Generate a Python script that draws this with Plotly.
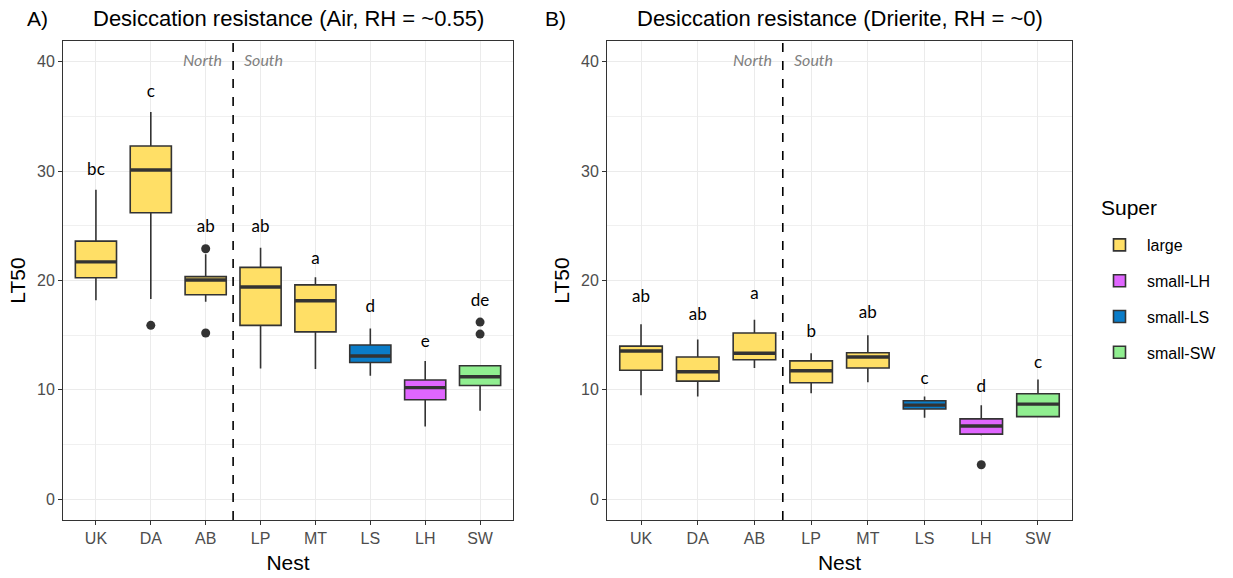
import plotly.graph_objects as go

# ---- data ----
nests = ["UK", "DA", "AB", "LP", "MT", "LS", "LH", "SW"]
supers = ["large", "large", "large", "large", "large", "small-LS", "small-LH", "small-SW"]
super_order = ["large", "small-LH", "small-LS", "small-SW"]
super_colors = {
    "large": "#FFDF66",
    "small-LH": "#E066FF",
    "small-LS": "#0A7CC8",
    "small-SW": "#90EE90",
}

# panel A: Air, RH ~0.55
air_lower = [18.2, 18.3, 18.05, 11.95, 11.9, 11.3, 6.65, 8.1]
air_q1 = [20.25, 26.2, 18.7, 15.9, 15.3, 12.5, 9.1, 10.4]
air_median = [21.7, 30.1, 20.05, 19.4, 18.15, 13.1, 10.2, 11.2]
air_q3 = [23.6, 32.3, 20.35, 21.2, 19.6, 14.1, 10.9, 12.2]
air_upper = [28.3, 35.4, 22.4, 23.0, 20.3, 15.6, 12.65, 12.2]
air_outliers = {"DA": [15.9], "AB": [22.9, 15.2], "SW": [16.2, 15.1]}
air_letters = ["bc", "c", "ab", "ab", "a", "d", "e", "de"]
air_letter_y = [30.0, 37.2, 24.8, 24.8, 21.9, 17.5, 14.3, 18.1]

# panel B: Drierite, RH ~0
dri_lower = [9.5, 9.4, 12.0, 9.7, 10.7, 7.45, 5.85, 7.5]
dri_q1 = [11.8, 10.8, 12.75, 10.65, 12.0, 8.25, 5.95, 7.55]
dri_median = [13.55, 11.65, 13.35, 11.75, 13.0, 8.6, 6.7, 8.7]
dri_q3 = [14.0, 13.0, 15.2, 12.65, 13.4, 9.0, 7.35, 9.65]
dri_upper = [16.0, 14.6, 16.4, 13.35, 15.0, 9.4, 8.6, 10.95]
dri_outliers = {"LH": [3.15]}
dri_letters = ["ab", "ab", "a", "b", "ab", "c", "d", "c"]
dri_letter_y = [18.45, 16.8, 18.7, 15.25, 17.0, 10.95, 10.15, 12.4]

titles = ["Desiccation resistance (Air, RH = ~0.55)",
          "Desiccation resistance (Drierite, RH = ~0)"]
panel_tags = ["A)", "B)"]

# ---- style ----
W, H = 1233, 578
EDGE = "#333333"
BOX_W = 0.75
FONT = "Liberation Sans, Arial, sans-serif"
LETTER_FONT = "Lato, Open Sans, sans-serif"


def px_x(p):
    return p / W


def px_y(p):
    return 1 - p / H


fig = go.Figure()

panels = [
    ("x", "y", air_lower, air_q1, air_median, air_q3, air_upper, air_outliers, air_letters, air_letter_y),
    ("x2", "y2", dri_lower, dri_q1, dri_median, dri_q3, dri_upper, dri_outliers, dri_letters, dri_letter_y),
]

shown = set()
for xa, ya, lo, q1, med, q3, up, outl, letters, ly in panels:
    for i, nest in enumerate(nests):
        pos = i + 1
        grp = supers[i]
        fig.add_trace(go.Box(
            x=[pos], lowerfence=[lo[i]], q1=[q1[i]], median=[med[i]],
            q3=[q3[i]], upperfence=[up[i]],
            width=BOX_W, whiskerwidth=0,
            fillcolor=super_colors[grp],
            line=dict(color=EDGE, width=1.6),
            name=grp, legendgroup=grp,
            legendrank=super_order.index(grp) + 1,
            showlegend=grp not in shown,
            xaxis=xa, yaxis=ya, hoverinfo="skip",
        ))
        shown.add(grp)
        # thicker median bar, like ggplot's fatten
        fig.add_trace(go.Scatter(
            x=[pos - BOX_W / 2, pos + BOX_W / 2], y=[med[i], med[i]],
            mode="lines", line=dict(color=EDGE, width=3.4),
            showlegend=False, legendgroup=grp, xaxis=xa, yaxis=ya, hoverinfo="skip",
        ))
        if nest in outl:
            fig.add_trace(go.Scatter(
                x=[pos] * len(outl[nest]), y=outl[nest], mode="markers",
                marker=dict(color=EDGE, size=9),
                showlegend=False, legendgroup=grp, xaxis=xa, yaxis=ya, hoverinfo="skip",
            ))
    fig.add_trace(go.Scatter(
        x=list(range(1, len(nests) + 1)), y=ly, mode="text", text=letters,
        textfont=dict(family=LETTER_FONT, size=17, color="#000000"),
        showlegend=False, xaxis=xa, yaxis=ya, hoverinfo="skip",
    ))

# panel positions in pixels
x_doms = [(63, 513), (607, 1072)]
y_dom = [px_y(520), px_y(41)]

axis_common = dict(
    showline=True, linecolor=EDGE, linewidth=1, mirror=True,
    ticks="outside", ticklen=4, tickcolor=EDGE,
    tickfont=dict(family=FONT, size=16, color="#4D4D4D"),
    gridcolor="#EBEBEB", gridwidth=1.3, zeroline=False,
    title_font=dict(family=FONT, size=21, color="#000000"),
)

for k in range(2):
    x0, x1 = x_doms[k]
    xr = "x" if k == 0 else "x2"
    yr = "y" if k == 0 else "y2"
    xname = "xaxis" if k == 0 else "xaxis2"
    yname = "yaxis" if k == 0 else "yaxis2"
    fig.update_layout({
        xname: dict(
            domain=[px_x(x0), px_x(x1)], range=[0.4, 8.6],
            tickvals=list(range(1, len(nests) + 1)), ticktext=nests,
            title_text="Nest", title_standoff=9, anchor=yr,
            **axis_common,
        ),
        yname: dict(
            domain=y_dom, range=[-1.9, 41.9], tickvals=[0, 10, 20, 30, 40],
            minor=dict(dtick=5, tick0=0, showgrid=True, gridcolor="#F0F0F0",
                       gridwidth=0.9, ticks=""),
            title_text="LT50", title_standoff=5, anchor=xr,
            **axis_common,
        ),
    })
    # North / South divider
    fig.add_shape(type="line", xref=xr, yref=f"{yr} domain", x0=3.5, x1=3.5, y0=0, y1=1,
                  line=dict(color="#000000", width=1.6, dash="dash"))
    fig.add_annotation(xref=xr, yref=yr, x=3.5, y=40.2, text="<i>North</i>", showarrow=False,
                       xanchor="right", xshift=-9,
                       font=dict(family=LETTER_FONT, size=16, color="#808080"))
    fig.add_annotation(xref=xr, yref=yr, x=3.5, y=40.2, text="<i>South</i>", showarrow=False,
                       xanchor="left", xshift=9,
                       font=dict(family=LETTER_FONT, size=16, color="#808080"))
    # titles
    fig.add_annotation(xref="paper", yref="paper", x=px_x((x0 + x1) / 2), y=px_y(18),
                       text=titles[k], showarrow=False, xanchor="center", yanchor="middle",
                       font=dict(family=FONT, size=22, color="#000000"))
    fig.add_annotation(xref="paper", yref="paper", x=px_x(25 if k == 0 else 543), y=px_y(18),
                       text=panel_tags[k], showarrow=False, xanchor="left", yanchor="middle",
                       font=dict(family=FONT, size=21, color="#000000"))

# legend title as its own text so the gap to the keys matches
fig.add_annotation(xref="paper", yref="paper", x=px_x(1099), y=px_y(207),
                   text="Super", showarrow=False, xanchor="left", yanchor="middle",
                   font=dict(family=FONT, size=21, color="#000000"))

fig.update_layout(
    width=W, height=H,
    margin=dict(l=0, r=0, t=0, b=0),
    paper_bgcolor="white", plot_bgcolor="white",
    boxmode="overlay",
    legend=dict(
        font=dict(family=FONT, size=16, color="#000000"),
        x=px_x(1092), y=px_y(228), xanchor="left", yanchor="top",
        traceorder="grouped", tracegroupgap=12, itemwidth=45,
        bgcolor="rgba(0,0,0,0)",
    ),
)

# drop the default page margin so the figure sits at the window's corner
fig.write_html("out.html", config={"displayModeBar": False},
               post_script="document.body.style.margin='0';")
